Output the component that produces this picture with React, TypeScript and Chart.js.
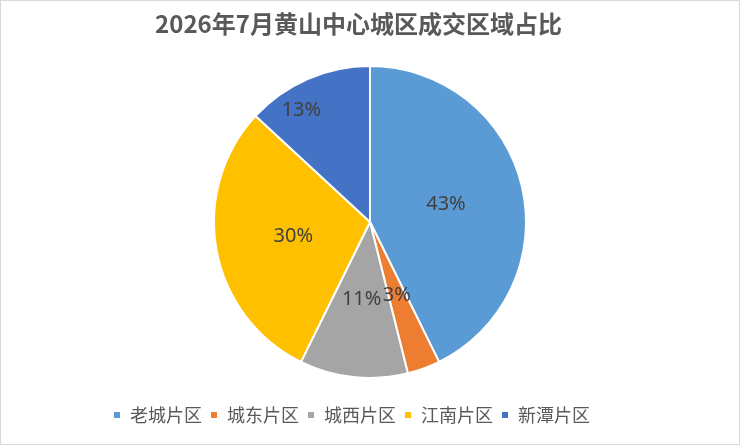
import React, { useEffect, useRef } from 'react';
import { Chart, registerables } from 'chart.js';

Chart.register(...registerables);

const titleText = '2026年7月黄山中心城区成交区域占比';
const categories = ['老城片区', '城东片区', '城西片区', '江南片区', '新潭片区'];
const shares = [42.7, 3.4, 11.2, 29.6, 13.1];
const sliceColors = ['#5B9BD5', '#ED7D31', '#A5A5A5', '#FFC000', '#4472C4'];
const labelRadiusFrac = [0.5, 0.5, 0.5, 0.5, 0.84];
const labelAngleShiftDeg = [0, 0, 0, 0, -8];

const FONT = '"Noto Sans", "Noto Sans CJK SC", sans-serif';
const CJK_FONT = '"Noto Sans CJK SC", "Noto Sans", sans-serif';

const nudgePlugin = {
  id: 'nudge',
  afterLayout(chart: any) {
    const tb = chart.titleBlock;
    if (tb) {
      tb.left -= 11.5;
      tb.right -= 11.5;
    }
    const lg = chart.legend;
    if (lg) {
      lg.left -= 18.5;
      lg.right -= 18.5;
    }
  },
};

const sliceLabelPlugin = {
  id: 'sliceLabels',
  afterDatasetsDraw(chart: any) {
    const ctx = chart.ctx;
    const meta = chart.getDatasetMeta(0);
    const data = chart.data.datasets[0].data as number[];
    const total = data.reduce((a, b) => a + b, 0);
    ctx.save();
    ctx.font = `20px ${FONT}`;
    ctx.fillStyle = '#404040';
    ctx.textAlign = 'center';
    ctx.textBaseline = 'middle';
    meta.data.forEach((arc: any, i: number) => {
      const p = arc.getProps(['x', 'y', 'startAngle', 'endAngle', 'outerRadius'], true);
      const mid = (p.startAngle + p.endAngle) / 2 + (labelAngleShiftDeg[i] * Math.PI) / 180;
      const r = p.outerRadius * labelRadiusFrac[i];
      const x = p.x + Math.cos(mid) * r;
      const y = p.y + Math.sin(mid) * r;
      ctx.fillText(Math.round((data[i] / total) * 100) + '%', x, y);
    });
    ctx.restore();
  },
};

export default function App() {
  const ref = useRef<HTMLCanvasElement | null>(null);

  useEffect(() => {
    if (!ref.current) return;
    const chart = new Chart(ref.current, {
      type: 'pie',
      data: {
        labels: categories,
        datasets: [
          {
            data: shares,
            backgroundColor: sliceColors,
            borderColor: '#FFFFFF',
            borderWidth: 2,
            radius: 156,
          } as any,
        ],
      },
      options: {
        animation: false,
        responsive: false,
        maintainAspectRatio: false,
        layout: { padding: { top: 0, bottom: 10, left: 0, right: 0 } },
        plugins: {
          title: {
            display: true,
            text: titleText,
            color: '#595959',
            font: { family: CJK_FONT, size: 24, weight: 'bold', lineHeight: 1.2 },
            padding: { top: 8.6, bottom: 7.6 },
          },
          legend: {
            display: true,
            position: 'bottom',
            labels: {
              boxWidth: 8,
              boxHeight: 8,
              padding: 8,
              color: '#595959',
              font: { family: CJK_FONT, size: 18 },
            },
          },
          tooltip: { enabled: false },
        },
      },
      plugins: [nudgePlugin, sliceLabelPlugin],
    });
    return () => chart.destroy();
  }, []);

  return (
    <div
      style={{
        position: 'fixed',
        left: 0,
        top: 0,
        width: 740,
        height: 445,
        boxSizing: 'border-box',
        border: '1px solid #D9D9D9',
        background: '#FFFFFF',
      }}
    >
      <canvas ref={ref} width={738} height={443} style={{ display: 'block', width: 738, height: 443 }} />
    </div>
  );
}
